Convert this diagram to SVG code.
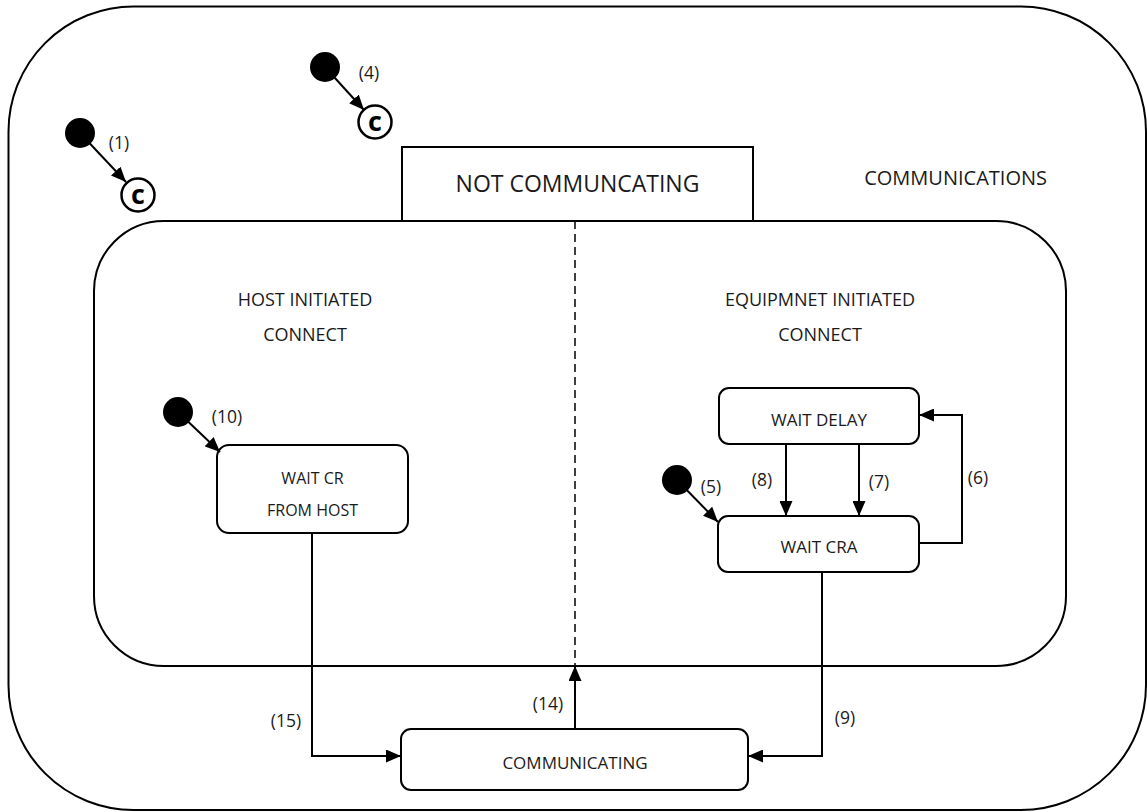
<svg xmlns="http://www.w3.org/2000/svg" width="1147" height="812" viewBox="0 0 1147 812">
<defs>
<marker id="ah" markerUnits="userSpaceOnUse" markerWidth="15" markerHeight="13" refX="15" refY="6.5" orient="auto"><path d="M0,0 L15,6.5 L0,13 z" fill="#000"/></marker>
</defs>
<style>
.frame{fill:none;stroke:#000;stroke-width:2}
.box{fill:#fff;stroke:#000;stroke-width:2}
.t{font-family:'Open Sans','Liberation Sans',sans-serif;fill:#1a1a1a;text-anchor:middle}
.lb{font-family:'Open Sans','Liberation Sans',sans-serif;fill:#1a1a1a;text-anchor:middle;font-size:17.5px}
.ln{fill:none;stroke:#000;stroke-width:2}
.dot{fill:#000}
.cc{fill:#fff;stroke:#000;stroke-width:2.5}
.c{font-family:'Open Sans','Liberation Sans',sans-serif;font-weight:bold;font-size:27px;fill:#000;text-anchor:middle}
</style>
<rect width="1147" height="812" fill="#fff"/>
<g id="communications">
<rect class="frame" x="8.5" y="6.5" width="1137.5" height="803.5" rx="125"/>
<text class="t" x="1047" y="185" font-size="20" style="text-anchor:end">COMMUNICATIONS</text>
</g>
<g id="connect-region">
<rect class="frame" x="94" y="221" width="972" height="445" rx="70"/>
<text class="t" x="305" y="306" font-size="18">HOST INITIATED</text>
<text class="t" x="305" y="341" font-size="18">CONNECT</text>
<text class="t" x="820" y="306" font-size="18">EQUIPMNET INITIATED</text>
<text class="t" x="820" y="341" font-size="18">CONNECT</text>
</g>
<g id="not-communicating">
<rect class="box" x="402" y="147" width="351" height="74"/>
<text class="t" x="577.5" y="192" font-size="23">NOT COMMUNCATING</text>
</g>
<g id="wait-cr">
<rect class="box" x="217" y="445" width="191" height="88" rx="12"/>
<text class="t" x="312.5" y="484" font-size="16">WAIT CR</text>
<text class="t" x="312.5" y="516" font-size="16">FROM HOST</text>
</g>
<g id="wait-delay">
<rect class="box" x="719" y="388" width="200" height="56" rx="10"/>
<text class="t" x="819" y="426" font-size="17">WAIT DELAY</text>
</g>
<g id="wait-cra">
<rect class="box" x="718" y="516" width="201" height="56" rx="10"/>
<text class="t" x="819" y="553" font-size="17">WAIT CRA</text>
</g>
<g id="communicating">
<rect class="box" x="401" y="729" width="347" height="61" rx="10"/>
<text class="t" x="575" y="769" font-size="17">COMMUNICATING</text>
</g>
<g id="init1"><circle class="dot" cx="80" cy="133" r="15"/></g>
<g id="hist1"><circle class="cc" cx="138" cy="195" r="16.5"/><text class="c" x="138" y="204">c</text></g>
<g id="init4"><circle class="dot" cx="325" cy="67" r="15"/></g>
<g id="hist4"><circle class="cc" cx="375" cy="122" r="16.5"/><text class="c" x="375" y="131">c</text></g>
<g id="init10"><circle class="dot" cx="178" cy="412" r="15"/></g>
<g id="init5"><circle class="dot" cx="677" cy="480" r="15"/></g>
<g id="connectors">
<line class="ln" x1="80" y1="133" x2="126" y2="182" marker-end="url(#ah)"/>
<line class="ln" x1="325" y1="67" x2="364" y2="110" marker-end="url(#ah)"/>
<line class="ln" x1="178" y1="412" x2="220" y2="452" marker-end="url(#ah)"/>
<line class="ln" x1="677" y1="480" x2="718" y2="522" marker-end="url(#ah)"/>
<line class="ln" x1="786" y1="444" x2="786" y2="516" marker-end="url(#ah)"/>
<line class="ln" x1="859" y1="444" x2="859" y2="516" marker-end="url(#ah)"/>
<polyline class="ln" points="919,543 962,543 962,415 919,415" marker-end="url(#ah)"/>
<polyline class="ln" points="312,533 312,756 401,756" marker-end="url(#ah)"/>
<polyline class="ln" points="822,572 822,756 748,756" marker-end="url(#ah)"/>
<line class="ln" x1="575" y1="729" x2="575" y2="666" marker-end="url(#ah)"/>
<line x1="575" y1="221" x2="575" y2="666" stroke="#000" stroke-width="1.5" stroke-dasharray="8 5"/>
<text class="lb" x="119" y="149">(1)</text>
<text class="lb" x="369" y="79">(4)</text>
<text class="lb" x="227" y="423">(10)</text>
<text class="lb" x="711" y="493">(5)</text>
<text class="lb" x="762" y="486">(8)</text>
<text class="lb" x="879" y="488">(7)</text>
<text class="lb" x="978" y="484">(6)</text>
<text class="lb" x="548" y="710">(14)</text>
<text class="lb" x="286" y="727">(15)</text>
<text class="lb" x="845" y="724">(9)</text>
</g>
</svg>
